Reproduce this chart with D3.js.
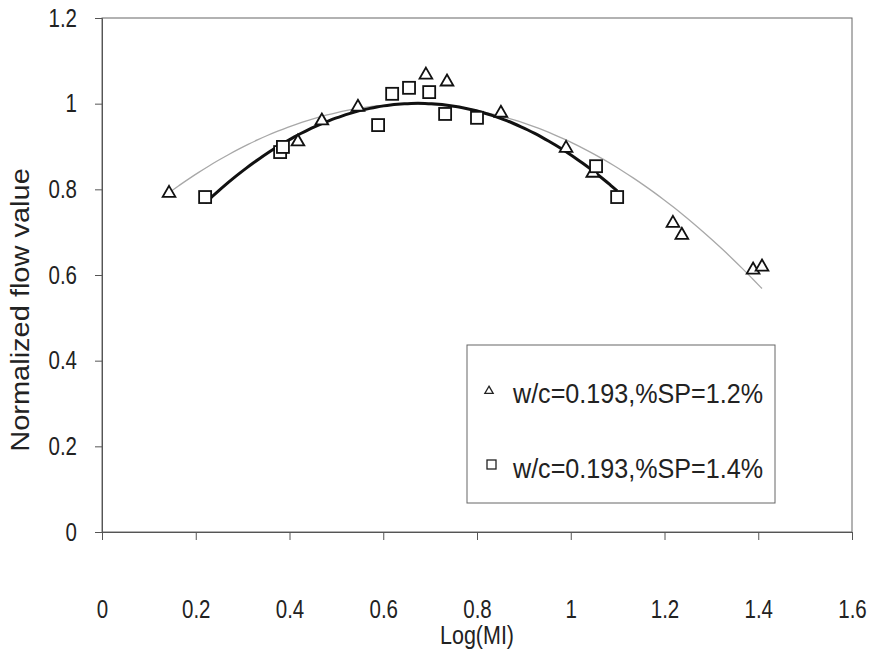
<!DOCTYPE html>
<html>
<head>
<meta charset="utf-8">
<script src="https://cdn.jsdelivr.net/npm/d3@7"></script>
<style>
  body { margin: 0; background: #fff; }
  text { font-family: "Liberation Sans", Arial, sans-serif; fill: #222; }
</style>
</head>
<body>
<script>
// series: log(MI) vs normalized flow value
const sp12X = [0.143, 0.418, 0.469, 0.546, 0.691, 0.736, 0.851, 0.990, 1.047, 1.218, 1.237, 1.389, 1.408];
const sp12Y = [0.791, 0.911, 0.960, 0.992, 1.067, 1.051, 0.978, 0.896, 0.838, 0.721, 0.693, 0.612, 0.619];
const sp14X = [0.220, 0.380, 0.386, 0.589, 0.619, 0.655, 0.698, 0.732, 0.800, 1.054, 1.099];
const sp14Y = [0.782, 0.887, 0.899, 0.950, 1.023, 1.037, 1.027, 0.976, 0.967, 0.854, 0.782];
const xTicks = [0, 0.2, 0.4, 0.6, 0.8, 1, 1.2, 1.4, 1.6];
const yTicks = [0, 0.2, 0.4, 0.6, 0.8, 1, 1.2];
const legendLabels = ["w/c=0.193,%SP=1.2%", "w/c=0.193,%SP=1.4%"];

const W = 873, H = 660;
const SX = 0.82; // the scanned figure's text is narrow and tall
const svg = d3.select("body").append("svg").attr("width", W).attr("height", H);

const x = d3.scaleLinear().domain([0, 1.6]).range([102, 852]);
const y = d3.scaleLinear().domain([0, 1.2]).range([532, 18]);

// plot frame
svg.append("rect")
  .attr("x", x(0)).attr("y", y(1.2))
  .attr("width", x(1.6) - x(0)).attr("height", y(0) - y(1.2))
  .attr("fill", "none").attr("stroke", "#666").attr("stroke-width", 1);

// axes
const yAxis = svg.append("g")
  .attr("transform", `translate(${x(0)},0)`)
  .call(d3.axisLeft(y).tickValues(yTicks).tickSize(7).tickPadding(18).tickFormat(d => String(d)));
const xAxis = svg.append("g")
  .attr("transform", `translate(0,${y(0)})`)
  .call(d3.axisBottom(x).tickValues(xTicks).tickSize(8).tickPadding(60).tickFormat(d => String(d)));
[xAxis, yAxis].forEach(g => {
  g.select(".domain").attr("stroke", "#555");
  g.selectAll(".tick line").attr("stroke", "#555");
  g.selectAll(".tick text").attr("font-size", 25).attr("fill", "#333")
    .attr("font-family", "'Liberation Sans', Arial, sans-serif");
});
xAxis.selectAll(".tick text").attr("transform", `scale(${SX},1)`);
yAxis.selectAll(".tick text")
  .attr("x", -25 / SX)
  .attr("transform", `scale(${SX},1)`);

// axis titles
svg.append("text")
  .attr("transform", `translate(477,644) scale(${SX + 0.04},1)`)
  .attr("text-anchor", "middle").attr("font-size", 25).attr("fill", "#333")
  .text("Log(MI)");
svg.append("text")
  .attr("transform", `translate(29,310) rotate(-90) scale(1,${SX + 0.06})`)
  .attr("text-anchor", "middle").attr("font-size", 29).attr("fill", "#333")
  .text("Normalized flow value");

// quadratic least-squares trendline (like the spreadsheet's poly trend)
function polyFit2(xs, ys) {
  let s = [0, 0, 0, 0, 0], t = [0, 0, 0];
  xs.forEach((xv, i) => {
    for (let k = 0; k < 5; k++) s[k] += Math.pow(xv, k);
    for (let k = 0; k < 3; k++) t[k] += ys[i] * Math.pow(xv, k);
  });
  const A = [[s[0], s[1], s[2], t[0]], [s[1], s[2], s[3], t[1]], [s[2], s[3], s[4], t[2]]];
  for (let i = 0; i < 3; i++) {
    for (let j = i + 1; j < 3; j++) {
      const f = A[j][i] / A[i][i];
      for (let k = i; k < 4; k++) A[j][k] -= f * A[i][k];
    }
  }
  const c = [0, 0, 0];
  for (let i = 2; i >= 0; i--) {
    let v = A[i][3];
    for (let k = i + 1; k < 3; k++) v -= A[i][k] * c[k];
    c[i] = v / A[i][i];
  }
  return xv => c[0] + c[1] * xv + c[2] * xv * xv;
}

const line = d3.line().x(d => x(d[0])).y(d => y(d[1])).curve(d3.curveBasis);
function trend(xs, ys) {
  const f = polyFit2(xs, ys);
  const [lo, hi] = d3.extent(xs);
  return d3.range(0, 61).map(i => { const xv = lo + (hi - lo) * i / 60; return [xv, f(xv)]; });
}

svg.append("path")
  .datum(trend(sp12X, sp12Y))
  .attr("d", line).attr("fill", "none")
  .attr("stroke", "#a8a8a8").attr("stroke-width", 1.3);
svg.append("path")
  .datum(trend(sp14X, sp14Y))
  .attr("d", line).attr("fill", "none")
  .attr("stroke", "#111").attr("stroke-width", 3);

// markers
const tri = d3.symbol().type(d3.symbolTriangle).size(70);
svg.append("g").selectAll("path")
  .data(sp12X.map((v, i) => [v, sp12Y[i]]))
  .join("path")
  .attr("d", tri)
  .attr("transform", d => `translate(${x(d[0])},${y(d[1])})`)
  .attr("fill", "#fff").attr("stroke", "#111").attr("stroke-width", 1.8);
svg.append("g").selectAll("rect")
  .data(sp14X.map((v, i) => [v, sp14Y[i]]))
  .join("rect")
  .attr("x", d => x(d[0]) - 6).attr("y", d => y(d[1]) - 6)
  .attr("width", 12).attr("height", 12)
  .attr("fill", "#fff").attr("stroke", "#111").attr("stroke-width", 1.8);

// legend
const lg = svg.append("g");
lg.append("rect")
  .attr("x", 467).attr("y", 345).attr("width", 308).attr("height", 158)
  .attr("fill", "#fff").attr("stroke", "#666").attr("stroke-width", 1);
lg.append("path")
  .attr("d", d3.symbol().type(d3.symbolTriangle).size(30))
  .attr("transform", "translate(489,391)")
  .attr("fill", "#fff").attr("stroke", "#222").attr("stroke-width", 1.3);
lg.append("rect")
  .attr("x", 487).attr("y", 460).attr("width", 9).attr("height", 9)
  .attr("fill", "#fff").attr("stroke", "#222").attr("stroke-width", 1.3);
lg.selectAll("text.lab")
  .data(legendLabels)
  .join("text")
  .attr("class", "lab")
  .attr("transform", (d, i) => `translate(513,${403 + i * 75}) scale(0.88,1)`)
  .attr("font-size", 28).attr("fill", "#333")
  .attr("textLength", 250 / 0.88).attr("lengthAdjust", "spacingAndGlyphs")
  .text(d => d);
</script>
</body>
</html>
